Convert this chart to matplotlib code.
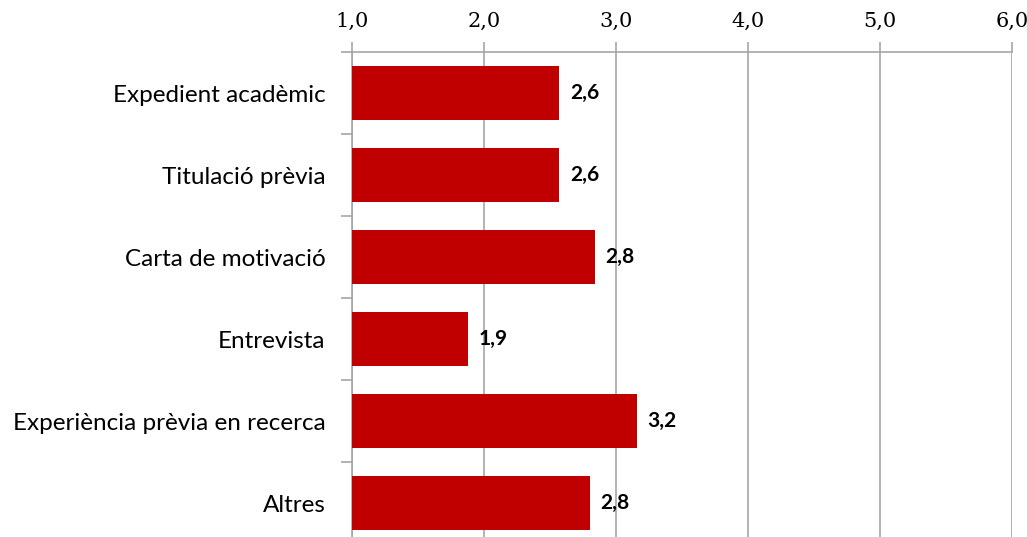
import matplotlib.pyplot as plt
from matplotlib.ticker import FuncFormatter

categories = ["Expedient acadèmic", "Titulació prèvia", "Carta de motivació",
              "Entrevista", "Experiència prèvia en recerca", "Altres"]
values = [2.57, 2.57, 2.84, 1.88, 3.16, 2.80]
xticks = [1, 2, 3, 4, 5, 6]

bar_color = "#C00000"
grid_color = "#a6a6a6"

fig = plt.figure(figsize=(10.27, 5.37), dpi=100)
ax = fig.add_axes([352/1027, -7/537, 660/1027, 492/537])

y = list(range(len(categories)))
ax.barh(y, [v - 1 for v in values], left=1, height=0.66, color=bar_color, zorder=3)

for yi, v in zip(y, values):
    ax.text(v + 0.08, yi, f"{v:.1f}".replace(".", ","), va="center", ha="left",
            fontsize=15, fontweight="bold", family="Lato", zorder=4)

ax.set_xlim(1, 6)
ax.set_ylim(len(categories) - 0.5, -0.5)
ax.set_xticks(xticks)
ax.xaxis.set_major_formatter(FuncFormatter(lambda v, p: f"{v:.1f}".replace(".", ",")))
ax.xaxis.tick_top()
ax.tick_params(axis="x", direction="out", length=7, width=1.2, color=grid_color,
               labelsize=15, pad=8)
for lab in ax.get_xticklabels():
    lab.set_family("DejaVu Serif")

# category labels centred, tick marks at the boundaries
ax.set_yticks([i + 0.5 for i in y[:-1]] + [-0.5], minor=False)
ax.set_yticklabels([""] * len(categories))
ax.set_yticks(y, minor=True)
ax.set_yticklabels(categories, minor=True, fontsize=17.5, family="Lato")
ax.tick_params(axis="y", which="major", direction="out", length=8, width=1.2, color=grid_color)
ax.tick_params(axis="y", which="minor", length=0, pad=19)

ax.grid(axis="x", color=grid_color, linewidth=1.2, zorder=0)
for s in ["right", "bottom"]:
    ax.spines[s].set_visible(False)
ax.spines["left"].set_color(grid_color)
ax.spines["top"].set_color(grid_color)
ax.spines["left"].set_linewidth(1.2)
ax.spines["top"].set_linewidth(1.2)

fig.savefig("out.png", dpi=100)
